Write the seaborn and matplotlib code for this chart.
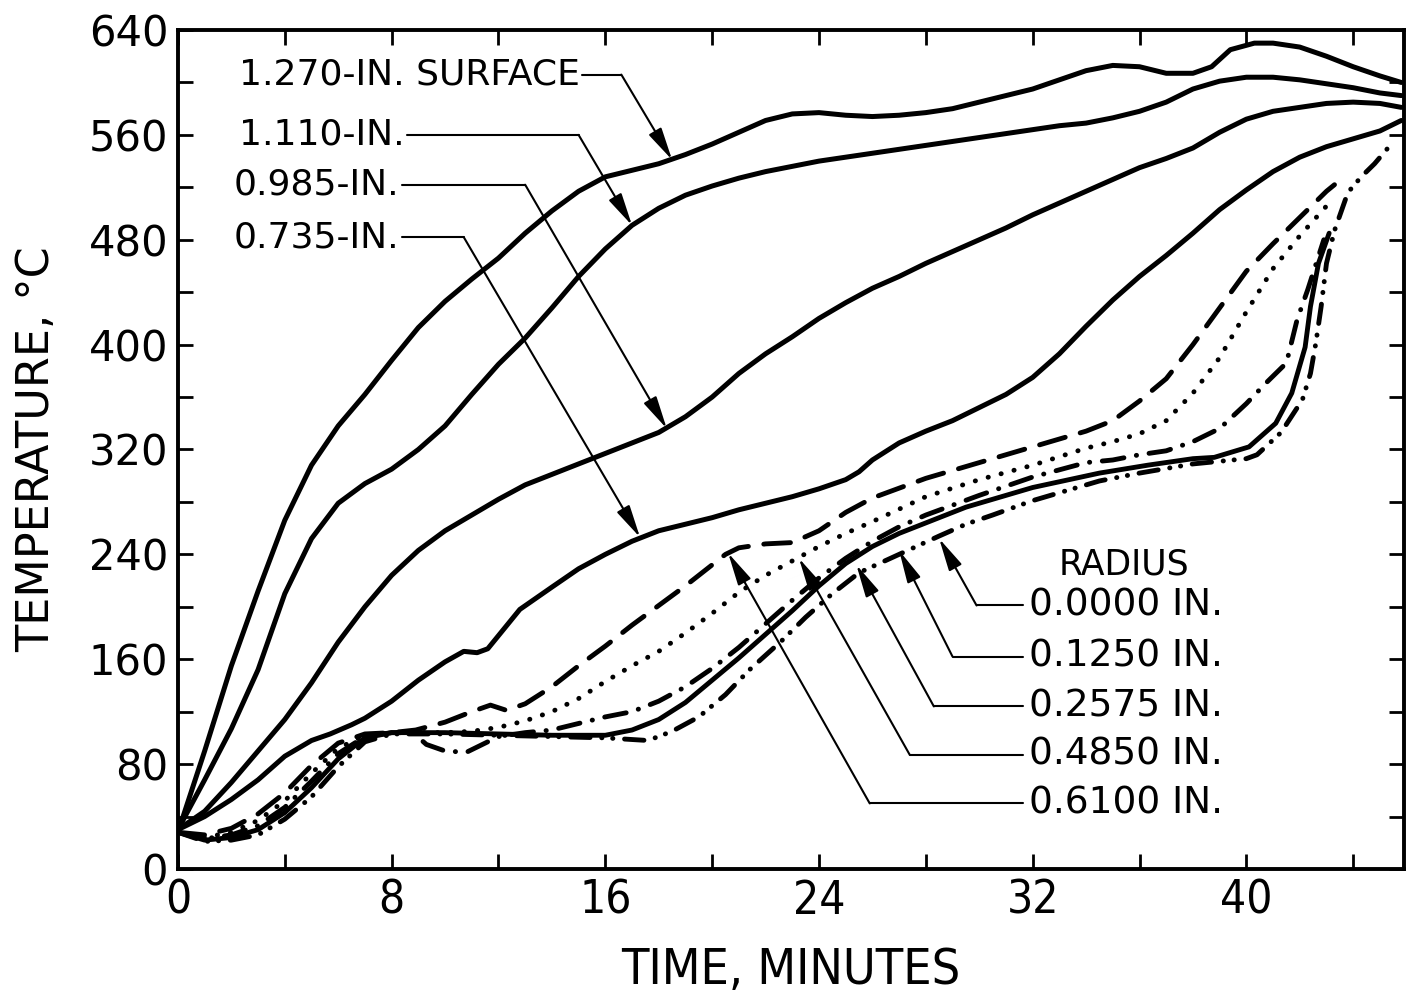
import numpy as np
import pandas as pd
import matplotlib
matplotlib.use("Agg")
import matplotlib.pyplot as plt
import seaborn as sns
from matplotlib.ticker import MultipleLocator

# ---------------- data (time in minutes, temperature in deg C) ----------------
surface_t = [0, 1, 2, 3, 4, 5, 6, 7, 8, 9, 10, 11, 12, 13, 14, 15, 16, 17, 18, 19, 20, 21, 22, 23, 24,
             25, 26, 27, 28, 29, 30, 31, 32, 33, 34, 35, 36, 37, 38, 38.7, 39.4, 40.3, 41, 42, 43, 44, 45, 45.8]
surface_T = [28, 90, 155, 212, 266, 308, 338, 362, 388, 413, 433, 450, 466, 485, 502, 517, 528, 533, 538, 545,
             553, 562, 571, 576, 577, 575, 574, 575, 577, 580, 585, 590, 595, 602, 609, 613, 612, 607, 607,
             612, 625, 630, 630, 627, 620, 612, 605, 600]

r1110_t = [0, 1, 2, 3, 4, 5, 6, 7, 8, 9, 10, 11, 12, 13, 14, 15, 16, 17, 18, 19, 20, 21, 22, 23, 24, 25, 26,
           27, 28, 29, 30, 31, 32, 33, 34, 35, 36, 37, 38, 39, 40, 41, 42, 43, 44, 45, 45.8]
r1110_T = [30, 68, 107, 152, 210, 252, 279, 294, 305, 320, 338, 362, 385, 405, 428, 452, 473, 491, 504, 514,
           521, 527, 532, 536, 540, 543, 546, 549, 552, 555, 558, 561, 564, 567, 569, 573, 578, 585, 595, 601,
           604, 604, 602, 599, 596, 592, 590]

r985_t = [0, 1, 2, 3, 4, 5, 6, 7, 8, 9, 10, 11, 12, 13, 14, 15, 16, 17, 18, 19, 20, 21, 22, 23, 24, 25, 26,
          27, 28, 29, 30, 31, 32, 33, 34, 35, 36, 37, 38, 39, 40, 41, 42, 43, 44, 45, 45.8]
r985_T = [30, 44, 66, 90, 114, 142, 173, 200, 224, 243, 258, 270, 282, 293, 301, 309, 317, 325, 333, 345,
          360, 378, 393, 406, 420, 432, 443, 452, 462, 471, 480, 489, 499, 508, 517, 526, 535, 542, 550, 562,
          572, 578, 581, 584, 585, 584, 581]

r735_t = [0, 1, 2, 3, 4, 5, 5.7, 6.5, 7, 8, 9, 10, 10.7, 11.2, 11.6, 12, 12.8, 14, 15, 16, 17, 18, 19, 20, 21,
          22, 23, 24, 25, 25.5, 26, 27, 28, 29, 30, 31, 32, 33, 34, 35, 36, 37, 38, 39, 40, 41, 42, 43, 44, 45, 45.8]
r735_T = [30, 40, 53, 68, 86, 98, 103, 110, 115, 128, 144, 158, 166, 165, 168, 178, 198, 215, 229, 240, 250,
          258, 263, 268, 274, 279, 284, 290, 297, 303, 312, 325, 334, 342, 352, 362, 375, 393, 414, 434, 452,
          468, 485, 503, 518, 532, 543, 551, 557, 563, 571]

r6100_t = [0, 1, 2, 3, 4, 5, 6, 7, 8, 8.9, 10, 11, 11.7, 12.3, 13, 14, 15, 16, 17, 18, 19, 20, 20.5, 21, 22,
           23, 24, 25, 26, 28, 30, 32, 34, 35, 36, 37, 38, 39, 40, 41, 42, 43, 43.3]
r6100_T = [28, 26, 31, 42, 58, 79, 96, 103, 104, 106, 112, 120, 125, 121, 126, 139, 155, 170, 186, 201, 216,
           232, 240, 245, 248, 249, 258, 272, 283, 298, 310, 322, 334, 342, 357, 374, 400, 428, 456, 477, 497,
           517, 522]

r4850_t = [0, 1, 2, 3, 4, 5, 6, 7, 8, 10, 11, 12, 13, 14, 15, 16, 17, 18, 19, 20, 21, 22, 23, 24, 25, 26, 28,
           30, 32, 34, 35, 36, 37, 38, 39, 40, 41, 42, 43.1]
r4850_T = [28, 24, 28, 37, 52, 73, 92, 102, 104, 104, 105, 108, 113, 120, 130, 143, 155, 166, 180, 195, 211,
           224, 235, 246, 256, 265, 284, 297, 308, 321, 326, 332, 342, 363, 390, 425, 458, 483, 508]

r2575_t = [0, 1, 2, 3, 4, 5, 6, 7, 8, 8.8, 9.3, 10, 10.8, 11.5, 12, 13, 14, 15, 16, 17, 18, 19, 20, 21, 22, 23,
           24, 25, 26, 27, 28, 30, 32, 34, 35, 36, 37, 38, 39, 40, 40.7, 41.5, 41.9, 42.3, 42.9]
r2575_T = [28, 23, 26, 33, 47, 67, 88, 101, 104, 104, 95, 90, 89, 96, 101, 104, 106, 111, 116, 120, 128, 139,
           153, 169, 187, 205, 222, 237, 250, 261, 270, 285, 299, 310, 312, 316, 319, 326, 336, 355, 370, 386,
           419, 442, 480]

r1250_t = [0, 1, 2, 3, 4, 5, 6, 7, 8, 10, 12, 14, 16, 17, 18, 19, 20, 21, 22, 23, 24, 25, 26, 27, 28, 29.5, 32,
           34.5, 36.3, 38, 38.8, 40.1, 41.1, 41.7, 42.2, 42.4, 42.7, 43.1]
r1250_T = [28, 22, 24, 30, 43, 62, 84, 100, 104, 104, 103, 102, 102, 106, 114, 127, 144, 161, 179, 197, 216,
           233, 246, 256, 264, 276, 291, 302, 308, 313, 314, 322, 340, 363, 398, 429, 462, 485]

r0000_t = [0, 1, 2, 3, 4, 5, 6, 7, 8, 10, 12, 14, 16, 17.6, 18.5, 19.5, 20.5, 21.4, 22.6, 23.5, 24.5, 25.5, 27,
           28.5, 29.5, 30.5, 32, 33, 34.5, 36, 38, 40, 40.4, 41.3, 42.1, 42.4, 42.6, 42.8, 43.0, 43.3, 43.8,
           44.3, 44.8, 45.3]
r0000_T = [28, 21, 22, 26, 38, 55, 78, 97, 103, 103, 102, 101, 100, 98, 105, 116, 133, 152, 174, 192, 210, 226,
           240, 254, 263, 270, 281, 287, 296, 302, 309, 313, 316, 333, 358, 378, 401, 429, 462, 487, 516, 528,
           538, 550]

# ---------------- labels ----------------
outer_labels = ["1.270-IN. SURFACE", "1.110-IN.", "0.985-IN.", "0.735-IN."]
outer_label_pos = [(2.3, 606), (2.3, 560), (2.1, 522), (2.1, 482)]
outer_corner = [(16.6, 606), (15.0, 560), (13.0, 522), (10.7, 482)]
outer_tip = [(18.5, 541), (17.0, 491), (18.3, 336), (17.3, 253)]

radius_title = "RADIUS"
radius_labels = ["0.0000 IN.", "0.1250 IN.", "0.2575 IN.", "0.4850 IN.", "0.6100 IN."]
radius_label_y = [201, 162, 124, 87, 50]
radius_corner_x = [29.9, 29.0, 28.3, 27.4, 25.9]
radius_tip = [(28.5, 252), (27.0, 243), (25.4, 232), (23.25, 237), (20.6, 241)]

x_ticks = [0, 8, 16, 24, 32, 40]
y_ticks = [0, 80, 160, 240, 320, 400, 480, 560, 640]

# ---------------- figure ----------------
sns.set_theme(style="ticks")
plt.rcParams["font.family"] = ["DejaVu Sans"]
plt.rcParams["text.color"] = "black"
plt.rcParams["axes.labelcolor"] = "black"
plt.rcParams["xtick.color"] = "black"
plt.rcParams["ytick.color"] = "black"

narrow = dict(family=["DejaVu Sans"], stretch="condensed")

fig, ax = plt.subplots(figsize=(14.10, 10.01), dpi=100)
fig.subplots_adjust(left=0.1262, right=0.9957, bottom=0.1319, top=0.970)

solid_series = [(surface_t, surface_T), (r1110_t, r1110_T), (r985_t, r985_T), (r735_t, r735_T)]
for t, T in solid_series:
    sns.lineplot(x=t, y=T, ax=ax, color="black", lw=3.6, sort=False, estimator=None,
                 solid_capstyle="round", solid_joinstyle="round")

radius_series = [
    (r6100_t, r6100_T, (0, (5.5, 3.2))),
    (r4850_t, r4850_T, (0, (0.05, 2.7))),
    (r2575_t, r2575_T, (0, (4.5, 2.6, 0.05, 2.6))),
    (r1250_t, r1250_T, "-"),
    (r0000_t, r0000_T, (0, (4.0, 2.4, 0.05, 2.2, 0.05, 2.4))),
]
for t, T, ls in radius_series:
    sns.lineplot(x=t, y=T, ax=ax, color="black", lw=3.5, sort=False, estimator=None,
                 linestyle=ls, dash_capstyle="round", solid_capstyle="round", solid_joinstyle="round")

ax.set_xlim(0, 45.9)
ax.set_ylim(0, 640)
ax.set_xticks(x_ticks)
ax.set_yticks(y_ticks)
ax.xaxis.set_minor_locator(MultipleLocator(4))
ax.yaxis.set_minor_locator(MultipleLocator(40))
ax.tick_params(which="both", direction="in", top=True, right=True, length=11, width=2.0, color="black")
ax.tick_params(axis="y", which="major", pad=7, labelsize=30, labelcolor="black")
ax.tick_params(axis="x", which="major", pad=7, labelcolor="black")
for lab in ax.get_xticklabels():
    lab.set_fontproperties(matplotlib.font_manager.FontProperties(size=33, **narrow))
for sp in ax.spines.values():
    sp.set_linewidth(2.8)
    sp.set_color("black")
ax.grid(False)
ax.set_facecolor("white")

ax.set_xlabel("TIME, MINUTES", fontsize=36, labelpad=16, **narrow)
ax.set_ylabel("TEMPERATURE, °C", fontsize=32, labelpad=22)

arrow_kw = dict(arrowstyle="-|>,head_length=1.0,head_width=0.22", mutation_scale=20, lw=1.5,
                color="black", shrinkA=0, shrinkB=0)

# upper labels with leaders
texts = []
for lab, (x, y) in zip(outer_labels, outer_label_pos):
    texts.append(ax.text(x, y, lab, fontsize=26, ha="left", va="center", color="black"))
fig.canvas.draw()
renderer = fig.canvas.get_renderer()
inv = ax.transData.inverted()
for txt, (cx, cy), (tx, ty) in zip(texts, outer_corner, outer_tip):
    bb = txt.get_window_extent(renderer)
    x_end = inv.transform((bb.x1 + 2, bb.y0))[0]
    ax.plot([x_end, cx], [cy, cy], color="black", lw=1.5)
    ax.annotate("", xy=(tx, ty), xytext=(cx, cy), arrowprops=arrow_kw)

# radius labels
label_x = 31.85
leader_end = 31.65
ax.text(35.4, 232, radius_title, fontsize=25, ha="center", va="center")
for lab, ly, cx, (tx, ty) in zip(radius_labels, radius_label_y, radius_corner_x, radius_tip):
    ax.text(label_x, ly, lab, fontsize=27, ha="left", va="center")
    ax.plot([cx, leader_end], [ly, ly], color="black", lw=1.5)
    ax.annotate("", xy=(tx, ty), xytext=(cx, ly), arrowprops=arrow_kw)

fig.savefig("out.png", dpi=100, facecolor="white")
